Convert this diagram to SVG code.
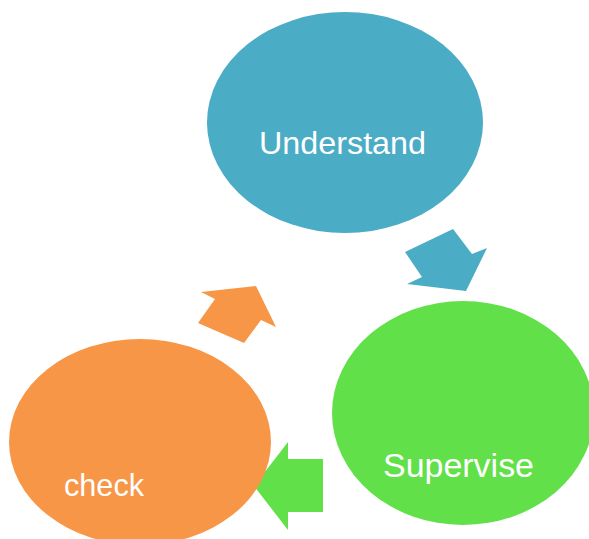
<svg xmlns="http://www.w3.org/2000/svg" width="589" height="539" viewBox="0 0 589 539">
<style>
.lbl{font-family:"Liberation Sans",Arial,sans-serif;fill:#ffffff}
.blue{fill:#4BACC6}
.green{fill:#61E04A}
.orange{fill:#F79646}
</style>
<rect width="589" height="539" fill="#ffffff"/>
<g id="connectors">
<polygon class="blue" points="405,252 453,229 472,254 487,248 466,291 407,284 422,277"/>
<polygon class="orange" points="201,292 256,286 276,327 261,320 244,343 198,323 215,299"/>
<polygon class="green" points="254,486 288,442 288,459 323,459 323,512 288,512 288,530"/>
</g>
<g id="understand">
<ellipse class="blue" cx="345" cy="122.5" rx="138" ry="110.5"/>
<text class="lbl" x="259" y="154" font-size="32" textLength="167" lengthAdjust="spacingAndGlyphs">Understand</text>
</g>
<g id="supervise">
<ellipse class="green" cx="463" cy="413" rx="131" ry="112"/>
<text class="lbl" x="383" y="477" font-size="34" textLength="151" lengthAdjust="spacingAndGlyphs">Supervise</text>
</g>
<g id="check">
<ellipse class="orange" cx="140" cy="442" rx="131" ry="103"/>
<text class="lbl" x="64" y="496" font-size="32" textLength="80" lengthAdjust="spacingAndGlyphs">check</text>
</g>
</svg>
